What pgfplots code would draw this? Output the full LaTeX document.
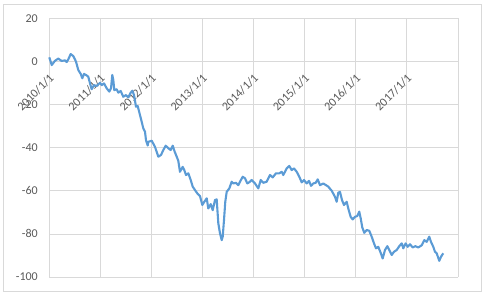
\documentclass[border=0pt]{standalone}
\usepackage{fontspec}
\setmainfont{Carlito}
\usepackage{pgfplots}
\pgfplotsset{compat=1.18}
\definecolor{gridc}{HTML}{D9D9D9}
\definecolor{txtc}{HTML}{595959}
\definecolor{linec}{HTML}{5B9BD5}
\begin{document}
\begin{tikzpicture}
\useasboundingbox (0,0) rectangle (487bp,296bp);
\draw[gridc, line width=0.75bp] (3.5bp,4.3bp) rectangle (481.7bp,292bp);
\begin{axis}[
  at={(49bp,19bp)}, anchor=south west,
  scale only axis, width=409bp, height=258.7bp,
  xmin=0, xmax=8, ymin=-100, ymax=20,
  axis x line=middle, axis y line=left,
  axis line style={draw=none,-},
  hide obscured x ticks=false, hide obscured y ticks=false,
  xtick={0,1,2,3,4,5,6,7,8},
  xticklabels={2010/1/1,2011/1/1,2012/1/1,2013/1/1,2014/1/1,2015/1/1,2016/1/1,2017/1/1,{}},
  ytick={-100,-80,-60,-40,-20,0,20},
  yticklabels={-100,-80,-60,-40,-20,0,20},
  major tick length=0pt,
  grid=major,
  major grid style={gridc, line width=0.75bp},
  tick label style={font=\fontsize{12bp}{14bp}\selectfont, text=txtc},
  xticklabel style={yshift=-11.5bp, xshift=-0.5bp, rotate=45, anchor=north east, inner sep=0pt},
  yticklabel style={anchor=east, inner sep=0pt, xshift=-11bp},
  clip=false,
]
\addplot[linec, line width=2.1bp, line join=round] coordinates {
(0.006,1.9) (0.053,-1.7) (0.117,0.3) (0.182,1.3) (0.248,0.2) (0.313,0.5) (0.346,-0.3) (0.378,1.0)
(0.424,3.4) (0.475,2.5) (0.528,-0.1) (0.573,-4.0) (0.620,-5.8) (0.651,-7.8) (0.685,-5.8) (0.724,-6.3)
(0.769,-7.1) (0.802,-10.2) (0.835,-12.9) (0.880,-11.0) (0.933,-11.4) (0.998,-9.9) (1.031,-11.0)
(1.076,-10.2) (1.129,-12.5) (1.179,-14.0) (1.213,-12.5) (1.238,-6.3) (1.258,-8.6) (1.277,-13.3)
(1.324,-12.9) (1.356,-14.5) (1.402,-13.7) (1.453,-16.4) (1.506,-15.6) (1.551,-16.7) (1.598,-14.5)
(1.629,-13.6) (1.663,-15.6) (1.702,-21.0) (1.735,-20.7) (1.780,-24.9) (1.813,-28.0) (1.844,-31.0)
(1.878,-32.6) (1.897,-36.5) (1.931,-39.0) (1.942,-37.3) (2.009,-36.8) (2.073,-39.6) (2.138,-44.2)
(2.191,-43.4) (2.236,-41.1) (2.283,-39.1) (2.334,-40.3) (2.380,-41.1) (2.420,-39.1) (2.459,-41.9)
(2.498,-44.2) (2.529,-46.1) (2.562,-51.2) (2.615,-48.9) (2.646,-50.4) (2.680,-52.7) (2.725,-51.9)
(2.772,-55.0) (2.811,-58.1) (2.856,-59.7) (2.901,-61.2) (2.954,-62.5) (2.999,-66.6) (3.038,-65.1)
(3.085,-63.5) (3.116,-68.2) (3.163,-66.2) (3.202,-69.0) (3.247,-64.3) (3.280,-64.0) (3.312,-75.1)
(3.345,-79.8) (3.378,-82.9) (3.398,-81.3) (3.423,-73.6) (3.448,-65.1) (3.476,-60.5) (3.527,-58.9)
(3.574,-55.8) (3.605,-56.6) (3.658,-56.3) (3.703,-57.4) (3.736,-55.8) (3.789,-53.5) (3.834,-54.2)
(3.879,-56.6) (3.932,-55.8) (3.965,-55.0) (4.029,-56.6) (4.094,-58.9) (4.141,-55.0) (4.192,-56.3)
(4.258,-55.8) (4.323,-52.7) (4.376,-53.8) (4.440,-51.9) (4.505,-51.9) (4.552,-51.2) (4.583,-52.7)
(4.649,-49.6) (4.700,-48.5) (4.747,-50.4) (4.792,-49.6) (4.845,-51.2) (4.896,-53.5) (4.943,-56.1)
(4.988,-55.0) (5.041,-56.6) (5.086,-55.4) (5.125,-57.7) (5.170,-56.6) (5.217,-56.3) (5.256,-54.7)
(5.301,-57.4) (5.365,-56.6) (5.418,-57.4) (5.463,-58.1) (5.530,-60.0) (5.594,-62.8) (5.627,-65.1)
(5.659,-60.9) (5.692,-60.5) (5.731,-64.3) (5.770,-66.6) (5.823,-65.1) (5.854,-68.2) (5.901,-72.1)
(5.940,-73.3) (5.985,-72.1) (6.030,-71.7) (6.069,-69.7) (6.097,-72.8) (6.128,-77.0) (6.167,-79.5)
(6.214,-78.2) (6.265,-78.6) (6.312,-81.3) (6.357,-84.4) (6.396,-86.7) (6.441,-86.0) (6.488,-88.8)
(6.527,-91.4) (6.572,-87.5) (6.617,-85.7) (6.656,-87.5) (6.703,-89.8) (6.748,-88.3) (6.801,-87.5)
(6.852,-85.7) (6.899,-84.4) (6.930,-86.7) (6.977,-84.4) (7.016,-86.0) (7.061,-84.8) (7.114,-86.3)
(7.165,-85.7) (7.223,-86.3) (7.290,-85.3) (7.341,-82.9) (7.388,-83.7) (7.438,-81.3) (7.472,-83.7)
(7.517,-86.0) (7.550,-88.3) (7.583,-89.0) (7.634,-92.5) (7.668,-90.6) (7.712,-89.0)
};
\end{axis}
\end{tikzpicture}
\end{document}
